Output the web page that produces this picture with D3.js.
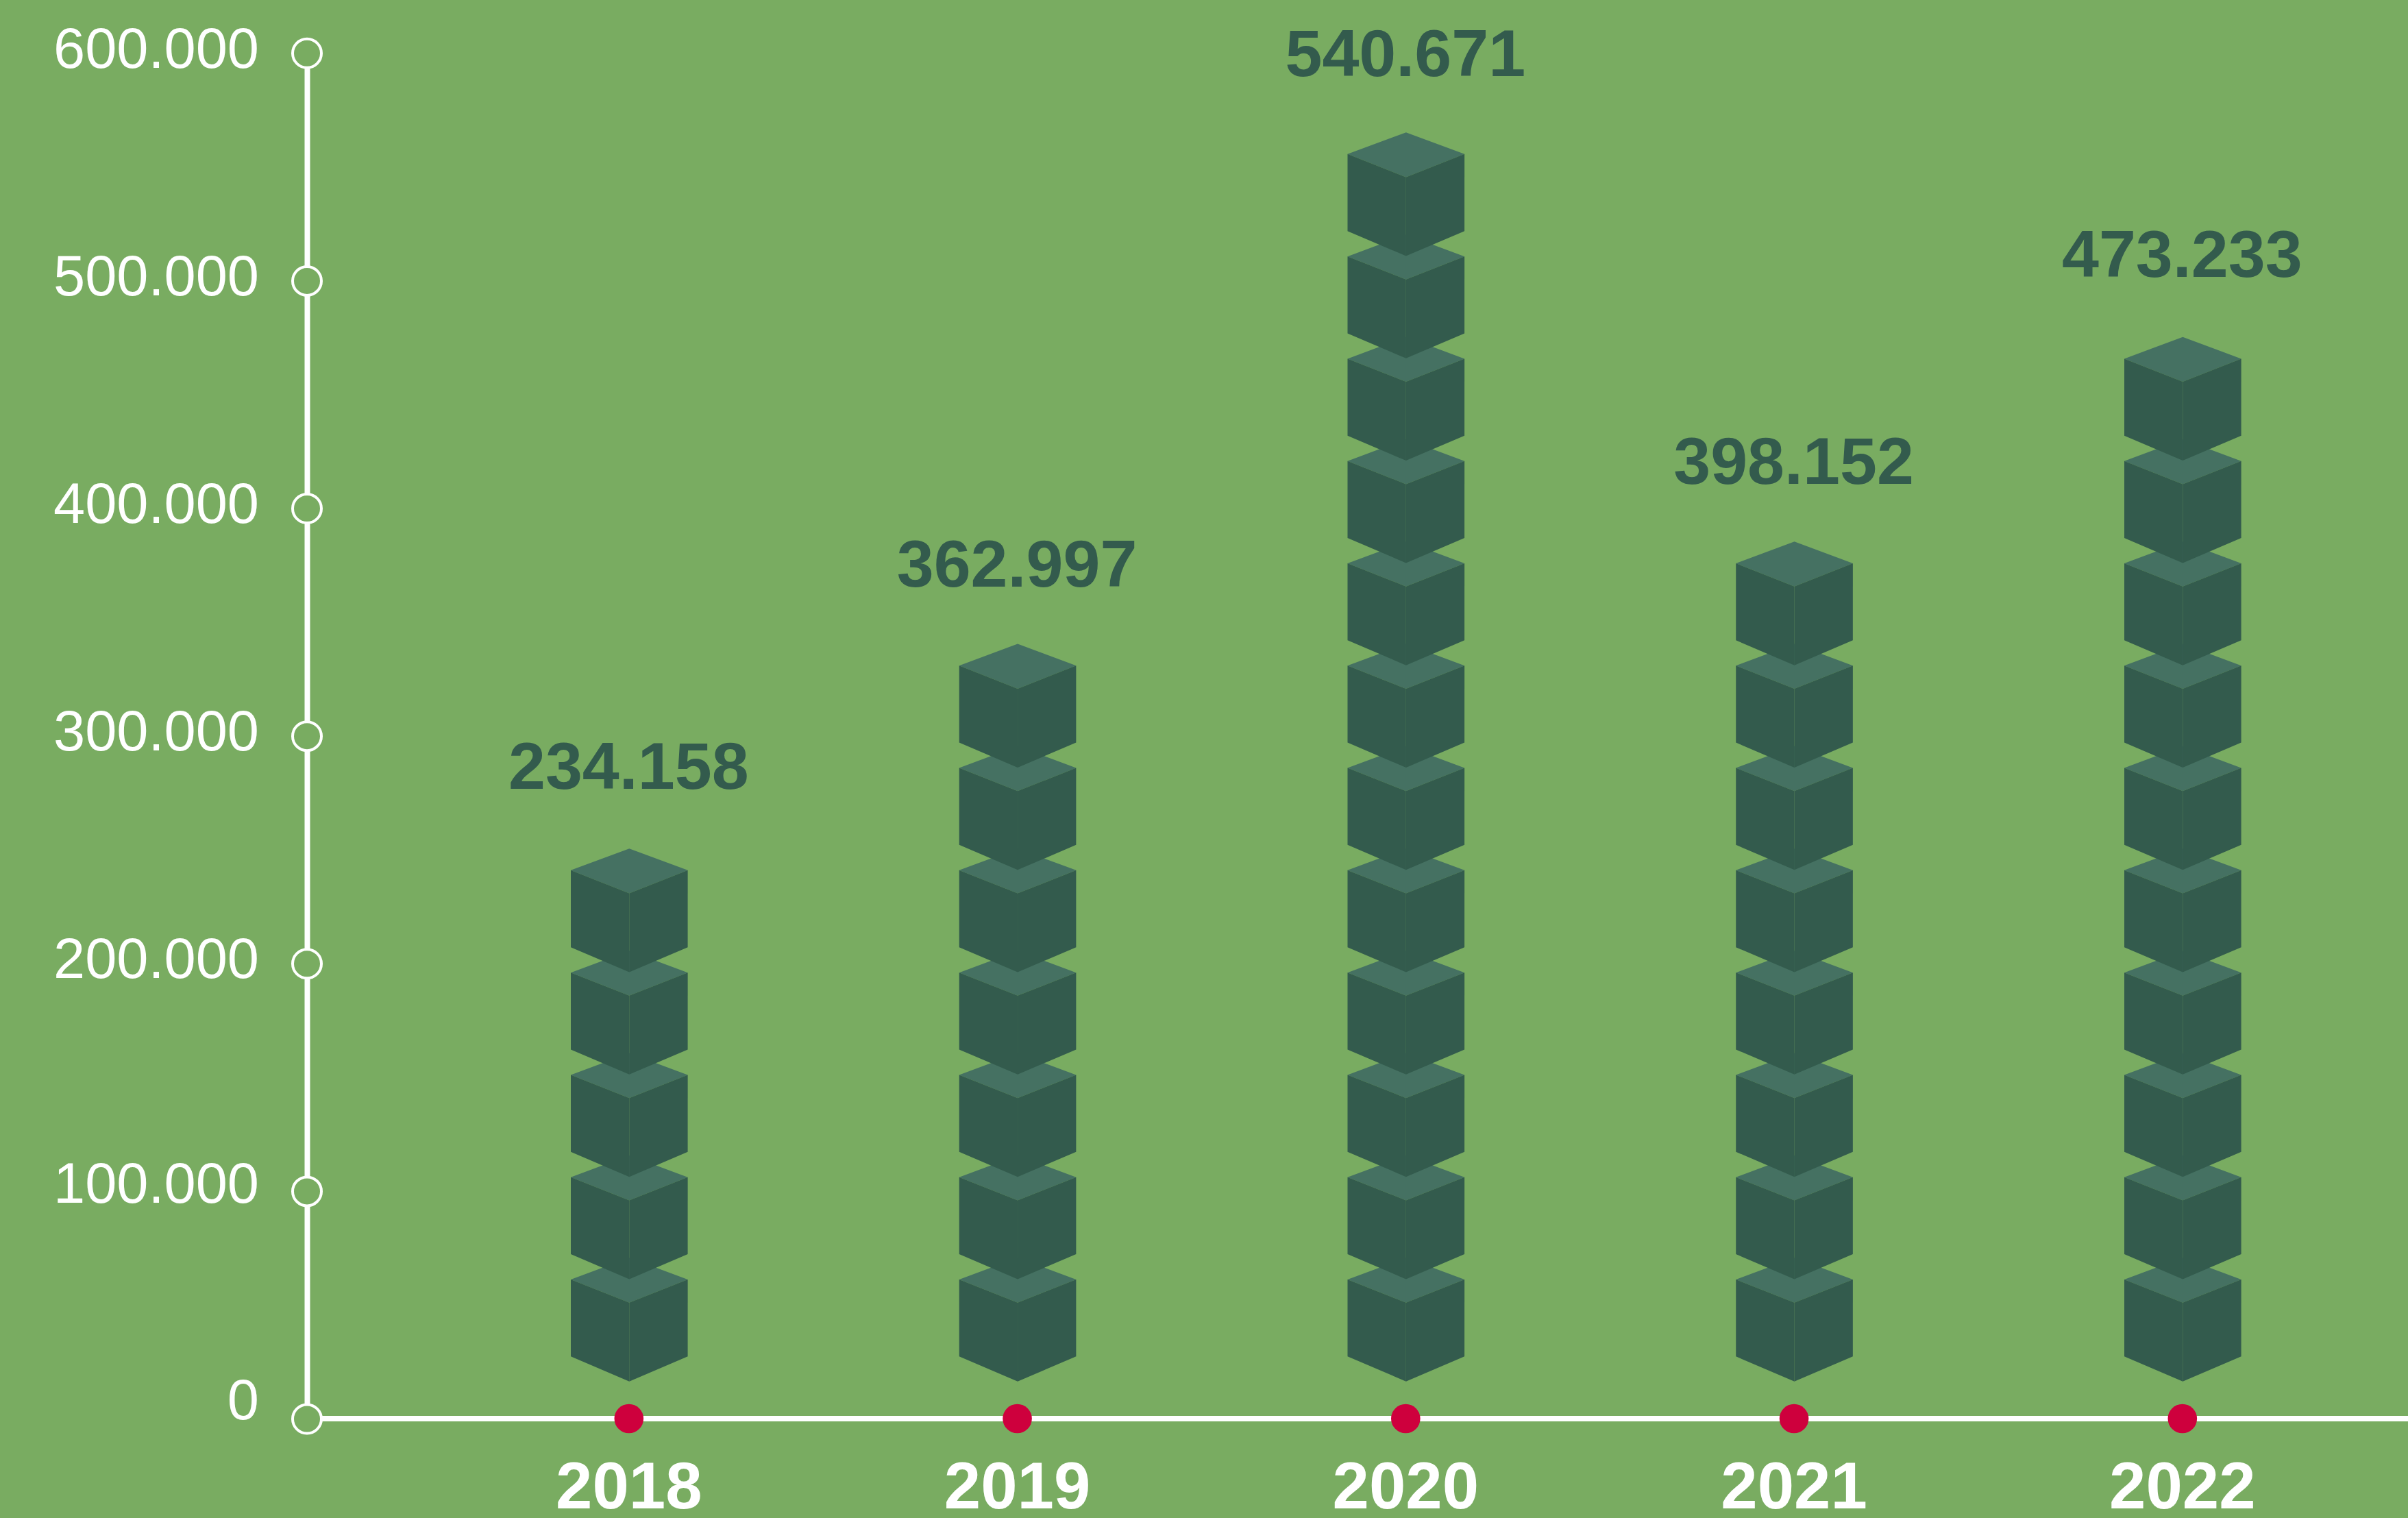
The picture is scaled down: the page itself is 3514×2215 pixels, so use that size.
<!DOCTYPE html>
<html>
<head>
<meta charset="utf-8">
<title>Yearly totals, 2018–2022</title>
<script src="https://cdn.jsdelivr.net/npm/d3@7/dist/d3.min.js"></script>
<style>
  html, body { margin: 0; padding: 0; background: #79ac61; }
  svg { display: block; }
  text { font-family: "Liberation Sans", Arimo, Helvetica, Arial, sans-serif; }
</style>
</head>
<body>
<script>
// Chart data
const years = ["2018", "2019", "2020", "2021", "2022"];
const totals = [234158, 362997, 540671, 398152, 473233];
const cubeCounts = [5, 7, 12, 8, 10];
const yTicks = [0, 100000, 200000, 300000, 400000, 500000, 600000];
const unitsPerCube = 44950;

// Page and plot layout
const W = 3514, H = 2215;
const axisX = 448, baseY = 2070, topY = 77.3;
const firstX = 918.3, lastX = 3185.3;

// Cube outline, measured down from the top corner of the cube
const cube = { halfW: 85.3, sideTop: 31.7, front: 65.4, sideBottom: 144, bottom: 180.4 };
const lowestCubeLift = 234.7;   // gap between the baseline and the top corner of the first cube

// Baseline distance of each value label above its stack
const labelLift = [87.5, 84, 82, 84, 88];
// Baseline offset of each y tick label from its tick
const yLabelDrop = { 0: 0, 100000: 16.6, 200000: 20.8, 300000: 20.8, 400000: 20.8, 500000: 20.8, 600000: 20.8 };

const colors = {
  bg: "#79ac61", axis: "#ffffff", face: "#335b4d", top: "#457162", dot: "#ce003d"
};

const x = d3.scalePoint().domain(years).range([firstX, lastX]);
const y = d3.scaleLinear().domain([0, 600000]).range([baseY, topY]);
const fmt = d3.formatLocale({ decimal: ",", thousands: ".", grouping: [3], currency: ["", ""] }).format(",");

const svg = d3.select("body").append("svg")
  .attr("width", W).attr("height", H).attr("viewBox", `0 0 ${W} ${H}`);

svg.append("rect").attr("width", W).attr("height", H).attr("fill", colors.bg);

// Horizontal baseline running off the right edge
svg.append("line")
  .attr("x1", axisX).attr("x2", W)
  .attr("y1", y(0)).attr("y2", y(0))
  .attr("stroke", colors.axis).attr("stroke-width", 8);

// Vertical value axis with ring markers
const yAxis = svg.append("g")
  .attr("transform", `translate(${axisX},0)`)
  .call(d3.axisLeft(y).tickValues(yTicks).tickFormat(fmt).tickSize(0).tickPadding(70));

yAxis.select(".domain").attr("stroke", colors.axis).attr("stroke-width", 8);
yAxis.selectAll(".tick text")
  .attr("fill", colors.axis)
  .attr("font-size", 83)
  .attr("font-family", null)
  .attr("dy", null)
  .attr("y", d => yLabelDrop[d]);
yAxis.selectAll(".tick").append("circle")
  .attr("r", 21)
  .attr("fill", colors.bg)
  .attr("stroke", colors.axis)
  .attr("stroke-width", 4);

// Cube stacks, lowest cube first so each upper cube overlaps the one beneath it
const cubeStep = y(0) - y(unitsPerCube);
const line = d3.line();

function cubeFaces(cx, apex) {
  const c = cube;
  return [
    { fill: colors.top, pts: [[cx, apex], [cx + c.halfW, apex + c.sideTop], [cx, apex + c.front], [cx - c.halfW, apex + c.sideTop]] },
    { fill: colors.face, pts: [[cx - c.halfW, apex + c.sideTop], [cx, apex + c.front], [cx, apex + c.bottom], [cx - c.halfW, apex + c.sideBottom]] },
    { fill: colors.face, pts: [[cx + c.halfW, apex + c.sideTop], [cx, apex + c.front], [cx, apex + c.bottom], [cx + c.halfW, apex + c.sideBottom]] }
  ];
}

const stackApex = (i) => y(0) - lowestCubeLift - i * cubeStep;

const stacks = svg.append("g").selectAll("g")
  .data(years)
  .join("g");

stacks.each(function (year, s) {
  const g = d3.select(this);
  g.selectAll("g")
    .data(d3.range(cubeCounts[s]))
    .join("g")
    .selectAll("path")
    .data(i => cubeFaces(x(year), stackApex(i)))
    .join("path")
    .attr("d", f => line(f.pts) + "Z")
    .attr("fill", f => f.fill);
});

// Value labels above each stack
svg.append("g").selectAll("text")
  .data(years)
  .join("text")
  .attr("x", d => x(d) - 1)
  .attr("y", (d, i) => stackApex(cubeCounts[i] - 1) - labelLift[i])
  .attr("text-anchor", "middle")
  .attr("font-size", 97)
  .attr("font-weight", 700)
  .attr("fill", colors.face)
  .text((d, i) => fmt(totals[i]));

// Category axis: red markers on the baseline with bold year labels beneath
const xAxis = svg.append("g")
  .attr("transform", `translate(-1,${y(0)})`)
  .call(d3.axisBottom(x).tickSize(0).tickPadding(0));

xAxis.select(".domain").remove();
xAxis.selectAll(".tick").append("circle")
  .attr("r", 21.3)
  .attr("fill", colors.dot);
xAxis.selectAll(".tick text")
  .attr("fill", "#ffffff")
  .attr("font-size", 96)
  .attr("font-weight", 700)
  .attr("font-family", null)
  .attr("dy", null)
  .attr("y", 131);
</script>
</body>
</html>
